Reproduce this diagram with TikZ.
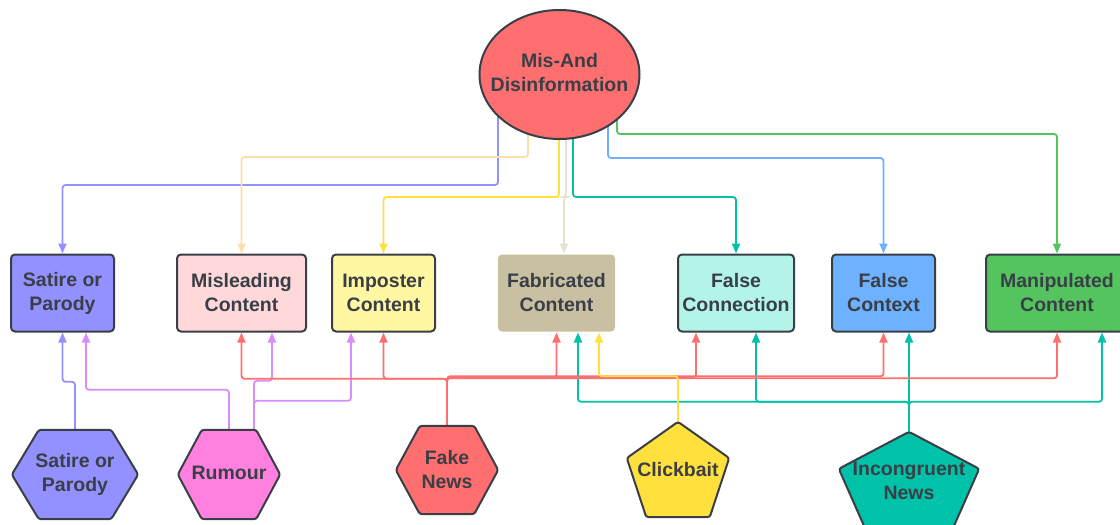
\documentclass[tikz,border=0pt]{standalone}
\usepackage{fontspec}
\setmainfont{Liberation Sans}
\usetikzlibrary{shapes.geometric,arrows.meta,calc}

\definecolor{ink}{HTML}{3A3F47}
\definecolor{cRed}{HTML}{FF6F6F}
\definecolor{cSat}{HTML}{9391FF}
\definecolor{cMisl}{HTML}{FFD9D9}
\definecolor{cImp}{HTML}{FFF7A1}
\definecolor{cFab}{HTML}{C9C0A1}
\definecolor{cFcon}{HTML}{B4F3E8}
\definecolor{cSky}{HTML}{6DB1FF}
\definecolor{cGreen}{HTML}{54C45E}
\definecolor{cRum}{HTML}{FF80DF}
\definecolor{cYel}{HTML}{FFE03D}
\definecolor{cTeal}{HTML}{00C2A8}
\definecolor{cPeach}{HTML}{FFDDA8}
\definecolor{cBeige}{HTML}{E9E3CE}
\definecolor{cViolet}{HTML}{DA8CFF}

\pgfdeclarelayer{wires}
\pgfdeclarelayer{plates}
\pgfsetlayers{wires,plates,main}

\tikzset{
  txt/.style={font=\bfseries\fontsize{19.5}{24}\selectfont, text=ink, align=center, inner sep=0pt},
  box/.style={txt, draw=ink, line width=2pt, rounded corners=4pt, minimum height=77pt},
  plate/.style={draw=ink, line width=2pt, line join=round, rounded corners=2.5pt},
  wire/.style={line width=1.8pt, rounded corners=3pt, -{Triangle[length=10pt,width=8pt]}},
  hexagon/.style 2 args={insert path={
    (#1.west) -- ($(#1.north west)+(#2,0)$) -- ($(#1.north east)+(-#2,0)$)
    -- (#1.east) -- ($(#1.south east)+(-#2,0)$) -- ($(#1.south west)+(#2,0)$) -- cycle}},
  pentagon/.style={insert path={
    (#1.north) -- ($(#1.north east)!0.38!(#1.south east)$)
    -- ($(#1.south east)!0.19!(#1.south west)$) -- ($(#1.south west)!0.19!(#1.south east)$)
    -- ($(#1.north west)!0.38!(#1.south west)$) -- cycle}},
}

\begin{document}
\begin{tikzpicture}[x=1pt,y=-1pt]
\useasboundingbox (0,0) rectangle (1120,525);

% root
\node[txt, ellipse, draw=ink, line width=2pt, fill=cRed, minimum width=160pt, minimum height=129pt]
  (mis) at (559.5,74.5)
  {\makebox[0pt]{\begin{tabular}{@{}c@{}}Mis-And\\Disinformation\end{tabular}}};

% categories
\node[box, fill=cSat,   minimum width=103pt] (sat)  at (62.5,293)  {Satire or\\Parody};
\node[box, fill=cMisl,  minimum width=129pt] (misl) at (241.5,293) {Misleading\\Content};
\node[box, fill=cImp,   minimum width=103pt] (imp)  at (383.5,293) {Imposter\\Content};
\node[box, fill=cFab, draw=none, minimum width=117pt] (fab) at (556.5,293) {Fabricated\\Content};
\node[box, fill=cFcon,  minimum width=116pt] (fcon) at (736,293)   {False\\Connection};
\node[box, fill=cSky,   minimum width=103pt] (fctx) at (883.5,293) {False\\Context};
\node[box, fill=cGreen, minimum width=142pt] (man)  at (1057,293)  {Manipulated\\Content};

% sources
\node[txt, minimum width=126pt, minimum height=89pt] (sathex) at (75,474.5)  {Satire or\\Parody};
\node[txt, minimum width=102pt, minimum height=89pt] (rum)    at (229,474.5) {\raisebox{3pt}{Rumour}};
\node[txt, minimum width=102pt, minimum height=88pt] (fake)   at (447,470)   {Fake\\News};
\node[txt, minimum width=102pt, minimum height=95pt] (click)  at (678,469.5) {\raisebox{1pt}{Clickbait}};
\node[txt, minimum width=140pt, minimum height=97pt, text depth=0pt] (inc) at (909,480.5) {Incongruent\\News};

\begin{pgfonlayer}{plates}
  \draw[plate, fill=cSat, hexagon={sathex}{27}];
  \draw[plate, fill=cRum, hexagon={rum}{24}];
  \draw[plate, fill=cRed, hexagon={fake}{24}];
  \draw[plate, fill=cYel, pentagon=click];
  \draw[plate, fill=cTeal, pentagon=inc];
\end{pgfonlayer}

\begin{pgfonlayer}{wires}
  % fan-out from the root
  \draw[wire, cSat]   ($(mis.center)+(-61.5,0)$) -- ++(0,110.5) -| (sat.north);
  \draw[wire, cPeach] ($(mis.center)+(-31.5,0)$) -- ++(0,82.5)  -| (misl.north);
  \draw[wire, cYel]   ($(mis.center)+(-0.5,0)$)  -- ++(0,122.5) -| (imp.north);
  \draw[wire, cBeige] ($(mis.center)+(6.5,0)$)   -- ++(0,122.5) -| ($(fab.north)+(7.5,0)$);
  \draw[wire, cTeal]  ($(mis.center)+(13.5,0)$)  -- ++(0,122.5) -| (fcon.north);
  \draw[wire, cSky]   ($(mis.center)+(48.5,0)$)  -- ++(0,83.5)  -| (fctx.north);
  \draw[wire, cGreen] ($(mis.center)+(57.5,0)$)  -- ++(0,59.5)  -| (man.north);

  % satire / parody and rumour
  \draw[wire, cSat]    (sathex.north) -- ++(0,-48) -| (sat.south);
  \draw[wire, cViolet] (rum.north) -- ++(0,-40) -| ($(sat.south)+(23.5,0)$);
  \draw[wire, cViolet] ($(rum.north)+(25,0)$) -- ++(0,-49) -| ($(misl.south)+(30.5,0)$);
  \draw[wire, cViolet] ($(rum.north)+(25,0)$) -- ++(0,-29) -| ($(imp.south)+(-32.5,0)$);

  % incongruent news
  \foreach \t/\dx in {fab/21.5, fcon/20, man/45}
    \draw[wire, cTeal] (inc.north) -- ++(0,-30) -| ($(\t.south)+(\dx,0)$);
  \draw[wire, cTeal] (inc.north) -- ($(fctx.south)+(25.5,0)$);

  % fake news
  \foreach \t/\dx/\h in {misl/0/47, imp/0/47, fab/0/48.5, fcon/-40/48.5, fctx/0/49.5, man/0/47.5}
    \draw[wire, cRed] (fake.north) -- ++(0,-\h) -| ($(\t.south)+(\dx,0)$);

  % clickbait
  \draw[wire, cYel] (click.north) -- ++(0,-45.5) -| ($(fab.south)+(42.5,0)$);
\end{pgfonlayer}
\end{tikzpicture}
\end{document}
